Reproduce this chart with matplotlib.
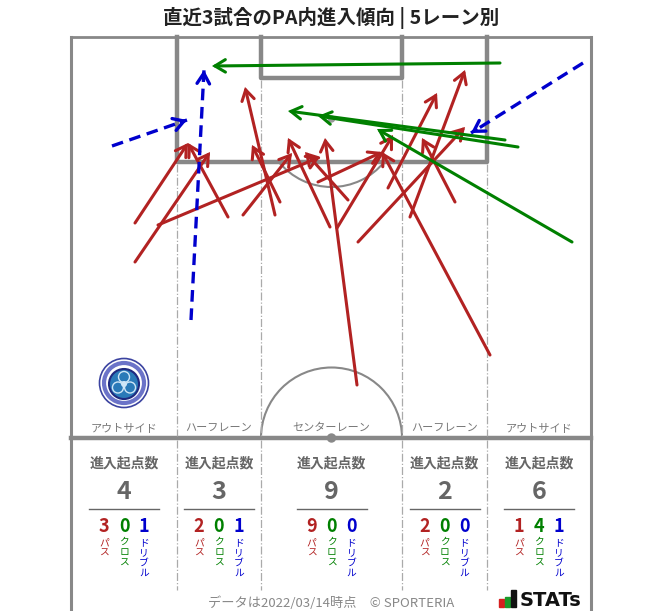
import matplotlib
matplotlib.use("Agg")
import matplotlib.pyplot as plt
from matplotlib.patches import Arc, Circle, Rectangle, FancyArrowPatch
import numpy as np

plt.rcParams['font.family'] = ['Noto Sans CJK JP', 'DejaVu Sans']

# ---------------- data (pitch pixel coordinates) ----------------
title = "直近3試合のPA内進入傾向 | 5レーン別"
lanes = ['アウトサイド', 'ハーフレーン', 'センターレーン', 'ハーフレーン', 'アウトサイド']
pass_counts = [3, 2, 9, 2, 1]
cross_counts = [0, 0, 0, 0, 4]
dribble_counts = [1, 1, 0, 0, 1]
type_labels = ['パス', 'クロス', 'ドリブル']

pass_x0 = [135, 135, 158, 228, 243, 357, 275, 280, 330, 337, 348, 318, 358, 388, 410, 455, 490]
pass_y0 = [223, 262, 225, 217, 215, 385, 215, 202, 227, 228, 200, 182, 242, 188, 217, 202, 355]
pass_x1 = [188, 210, 320, 188, 292, 325, 245, 252, 288, 393, 305, 382, 465, 437, 465, 422, 382]
pass_y1 = [143, 152, 157, 143, 153, 138, 87, 145, 138, 135, 152, 152, 127, 93, 70, 138, 152]

cross_x0 = [500, 505, 518, 572]
cross_y0 = [63, 140, 147, 242]
cross_x1 = [212, 288, 318, 377]
cross_y1 = [66, 111, 116, 129]

drib_x0 = [112, 191, 583]
drib_y0 = [146, 320, 63]
drib_x1 = [187, 204, 471]
drib_y1 = [120, 70, 133]

footer = "データは2022/03/14時点　© SPORTERIA"

# ---------------- styles ----------------
RED = '#b22222'
GREEN = '#008000'
BLUE = '#0000cd'
LINE = '#888888'
TXT = '#666666'

W, H = 663, 611
fig = plt.figure(figsize=(W / 100, H / 100), dpi=100)
ax = fig.add_axes([0, 0, 1, 1])
ax.set_xlim(0, W)
ax.set_ylim(H, 0)
ax.axis('off')

# pitch geometry
L, R, T, HALF = 71, 591, 37, 438
lane_edges = [71, 177, 261, 402, 487, 591]
lane_centers = [(lane_edges[i] + lane_edges[i + 1]) / 2 for i in range(5)]

# outer border
ax.plot([L, R], [T, T], color=LINE, lw=2, solid_capstyle='butt')
ax.plot([L, L], [T, H + 2], color=LINE, lw=2.2)
ax.plot([R, R], [T, H + 2], color=LINE, lw=2.2)
# halfway line
ax.plot([L, R], [HALF, HALF], color=LINE, lw=3.2)
# penalty area
ax.plot([177, 177, 487, 487], [T, 162, 162, T], color=LINE, lw=3.2)
# goal area
ax.plot([261, 261, 402, 402], [T, 78, 78, T], color=LINE, lw=3.2)
# penalty spot + arc
ax.add_patch(Circle((331.5, 119), 3, color='#999999', zorder=1))
d = np.degrees(np.arccos(43 / 68.0))
ax.add_patch(Arc((331.5, 119), 136, 136, theta1=90 - d, theta2=90 + d,
                 color=LINE, lw=1.5))
# centre circle
ax.add_patch(Arc((331.5, HALF), 141, 141, theta1=180, theta2=360, color=LINE, lw=1.5))
ax.add_patch(Circle((331.5, HALF), 4, color=LINE, zorder=3))

# lane dividers
for x, y0 in zip([177, 261, 402, 487], [164, 80, 80, 164]):
    ax.plot([x, x], [y0, HALF - 2], color='#aaaaaa', lw=0.9, ls='-.')
    ax.plot([x, x], [HALF + 2, 590], color='#aaaaaa', lw=0.9, ls='-.')

# lane labels
for cx, name in zip(lane_centers, lanes):
    ax.text(cx, 428, name, ha='center', va='center', fontsize=8, color='#777777')

# logo (simple badge)
ax.add_patch(Circle((124, 383), 24.5, facecolor='white', edgecolor='#3b43a0', lw=1.2, zorder=2))
ax.add_patch(Circle((124, 383), 20, facecolor='none', edgecolor='#6b73c8', lw=3, zorder=2))
ax.add_patch(Circle((124, 384), 15, facecolor='#2a7ab8', edgecolor='#1f2a80', lw=1.5, zorder=3))
for a in [90, 210, 330]:
    ax.add_patch(Circle((124 + 7 * np.cos(np.radians(a)), 384 - 7 * np.sin(np.radians(a))), 5.5,
                        facecolor='none', edgecolor='#cfe6f7', lw=1, zorder=4))
ax.add_patch(Circle((124, 384), 3, facecolor='#cfe6f7', edgecolor='none', zorder=4))

# ---------------- arrows ----------------
def arrow(x0, y0, x1, y1, color, dashed=False, z=5):
    if dashed:
        ax.plot([x0, x1], [y0, y1], color=color, lw=2.4, ls=(0, (3.5, 2)),
                solid_capstyle='butt', dash_capstyle='butt', zorder=z)
        v = np.array([x1 - x0, y1 - y0], float)
        v /= np.hypot(*v)
        xs, ys = x1 - v[0] * 6, y1 - v[1] * 6
        ax.add_patch(FancyArrowPatch((xs, ys), (x1, y1),
                                     arrowstyle='->,head_length=0.75,head_width=0.45',
                                     mutation_scale=10, color=color, lw=2.4,
                                     shrinkA=0, shrinkB=0, zorder=z))
    else:
        ax.add_patch(FancyArrowPatch((x0, y0), (x1, y1),
                                     arrowstyle='->,head_length=0.75,head_width=0.45',
                                     mutation_scale=10, color=color, lw=2.2,
                                     shrinkA=0, shrinkB=0, zorder=z,
                                     capstyle='round', joinstyle='miter'))

for x0, y0, x1, y1 in zip(pass_x0, pass_y0, pass_x1, pass_y1):
    arrow(x0, y0, x1, y1, RED, z=5)
for x0, y0, x1, y1 in zip(cross_x0, cross_y0, cross_x1, cross_y1):
    arrow(x0, y0, x1, y1, GREEN, z=6)
for x0, y0, x1, y1 in zip(drib_x0, drib_y0, drib_x1, drib_y1):
    arrow(x0, y0, x1, y1, BLUE, dashed=True, z=7)

# ---------------- lane summaries ----------------
for i, cx in enumerate(lane_centers):
    total = pass_counts[i] + cross_counts[i] + dribble_counts[i]
    ax.text(cx, 463, '進入起点数', ha='center', va='center', fontsize=10,
            fontweight='bold', color=TXT)
    ax.text(cx, 492, str(total), ha='center', va='center', fontsize=18,
            fontweight='bold', color=TXT)
    ax.plot([cx - 35, cx + 35], [508.5, 508.5], color=TXT, lw=1)
    vals = [pass_counts[i], cross_counts[i], dribble_counts[i]]
    for j, (v, c, lab) in enumerate(zip(vals, [RED, GREEN, BLUE], type_labels)):
        xx = cx - 20 + 20 * j
        ax.text(xx, 527, str(v), ha='center', va='center', fontsize=13,
                fontweight='bold', color=c)
        ax.text(xx, 537, '\n'.join(lab), ha='center', va='top', fontsize=7,
                color=c, linespacing=1.05)

# title
ax.text(331, 18, title, ha='center', va='center', fontsize=14, fontweight='bold', color='#222222')

# footer
ax.text(331, 603, footer, ha='center', va='center', fontsize=9.5, color='#888888')

# STATs logo
ax.add_patch(Rectangle((499, 599), 5, 8, color='#d62020'))
ax.add_patch(Rectangle((505, 597), 5, 10, color='#1a9a2a'))
ax.add_patch(Rectangle((511, 590), 5, 17, color='#111111'))
ax.text(520, 600, 'STATs', ha='left', va='center', fontsize=14, fontweight='bold',
        color='#111111', family='DejaVu Sans')

fig.savefig('out.png', dpi=100)
